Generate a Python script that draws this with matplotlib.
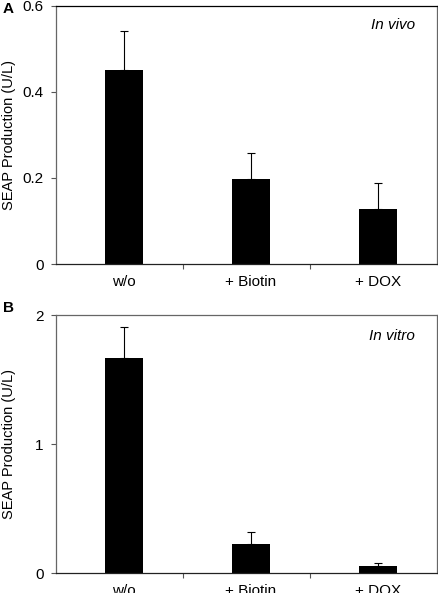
import matplotlib
matplotlib.use("Agg")
import matplotlib.pyplot as plt

plt.rcParams['font.family'] = ['Liberation Sans', 'DejaVu Sans']

categories = ["w/o", "+ Biotin", "+ DOX"]
vivo_means = [0.45, 0.198, 0.129]
vivo_err = [0.092, 0.06, 0.059]
vitro_means = [1.665, 0.225, 0.057]
vitro_err = [0.24, 0.095, 0.018]

vivo_ticks = [0, 0.2, 0.4, 0.6]
vivo_ticklabels = ["0", "0.2", "0.4", "0.6"]
vitro_ticks = [0, 1, 2]
vitro_ticklabels = ["0", "1", "2"]

fig = plt.figure(figsize=(4.39, 5.93), dpi=100)
ax_a = fig.add_axes([0.1276, 0.5548, 0.868, 0.4351])
ax_b = fig.add_axes([0.1276, 0.0337, 0.868, 0.4351])

panels = [
    (ax_a, vivo_means, vivo_err, vivo_ticks, vivo_ticklabels, "In vivo", 0.926, "A", 0.988, "black"),
    (ax_b, vitro_means, vitro_err, vitro_ticks, vitro_ticklabels, "In vitro", 0.92, "B", 1.029, "#666666"),
]

for ax, means, err, ticks, ticklabels, note, note_y, letter, letter_y, top_col in panels:
    # Excel-style layout: bars sit slightly right of the category centre
    x = [i + 0.035 for i in range(len(categories))]
    ax.bar(x, means, width=0.3, color="black", zorder=2)
    ax.errorbar(x, means, yerr=[[0] * len(err), err], fmt="none",
                ecolor="black", elinewidth=0.8, capsize=3, capthick=0.8, zorder=3)
    ax.set_xlim(-0.5, 2.5)
    ax.set_ylim(ticks[0], ticks[-1])
    ax.set_yticks(ticks)
    ax.set_yticklabels(ticklabels, fontsize=11)
    # category labels in the middle, tick marks at the category boundaries
    ax.set_xticks([0.5, 1.5])
    ax.set_xticklabels([])
    ax.set_xticks(x, minor=True)
    ax.set_xticklabels(categories, minor=True, fontsize=11)
    ax.tick_params(axis="x", which="minor", length=0, pad=8)
    ax.tick_params(axis="x", which="major", direction="out", length=3.5, width=0.8, color="#555555")
    ax.tick_params(axis="y", direction="out", length=3.5, width=0.8, pad=5.5, color="#555555")
    for side in ["left", "right"]:
        ax.spines[side].set_color("#666666")
        ax.spines[side].set_linewidth(0.9)
    ax.spines["top"].set_color(top_col)
    ax.spines["top"].set_linewidth(0.9)
    ax.spines["bottom"].set_color("#222222")
    ax.spines["bottom"].set_linewidth(0.9)
    ax.set_ylabel("SEAP Production (U/L)", fontsize=10.5)
    ax.yaxis.set_label_coords(-0.105, 0.5)
    ax.text(0.942, note_y, note, transform=ax.transAxes, ha="right", va="center",
            fontsize=11, style="italic")
    ax.text(-0.139, letter_y, letter, transform=ax.transAxes, ha="left", va="center",
            fontsize=11, fontweight="bold")

fig.savefig("out.png", dpi=100)
